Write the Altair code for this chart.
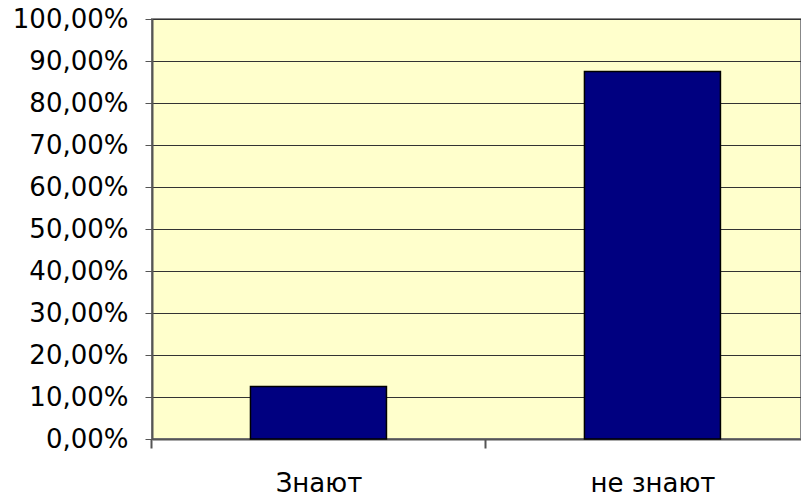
import altair as alt
import pandas as pd

categories = ["Знают", "не знают"]
values = [0.125, 0.875]

df = pd.DataFrame({"cat": categories, "val": values})

FONT = "DejaVu Sans"

x = alt.X(
    "cat:N",
    sort=categories,
    scale=alt.Scale(paddingInner=0.5928, paddingOuter=0.268, align=0.55),
    axis=alt.Axis(
        title=None,
        labelAngle=0,
        labelFont=FONT,
        labelFontSize=26,
        labelColor="black",
        labelPadding=22,
        tickSize=9,
        tickOffset=-167,
        labelOffset=167,
        tickColor="#555555",
        tickWidth=2,
        domainColor="#555555",
        domainWidth=2,
        grid=False,
    ),
)

y = alt.Y(
    "val:Q",
    scale=alt.Scale(domain=[0, 1], nice=False, zero=True),
    axis=alt.Axis(
        title=None,
        values=[i / 10 for i in range(11)],
        labelExpr="replace(format(datum.value, '.2%'), '.', ',')",
        labelFont=FONT,
        labelFontSize=26,
        labelColor="black",
        labelPadding=17,
        tickSize=7,
        tickColor="#555555",
        tickWidth=1,
        domainColor="#555555",
        domainWidth=2,
        grid=True,
        gridColor="#333333",
        gridWidth=1,
        gridOpacity=1,
    ),
)

chart = (
    alt.Chart(df)
    .mark_bar(color="#000080", stroke="black", strokeWidth=1.5)
    .encode(x=x, y=y)
    .properties(
        width=649,
        height=420,
        background="white",
        autosize=alt.AutoSizeParams(type="none"),
        padding={"left": 152, "top": 19, "right": 0, "bottom": 57},
    )
    .configure_view(fill="#FFFFCC", stroke="#888888", strokeWidth=2)
)

chart.save("out.html", embed_options={"renderer": "svg", "actions": False})
